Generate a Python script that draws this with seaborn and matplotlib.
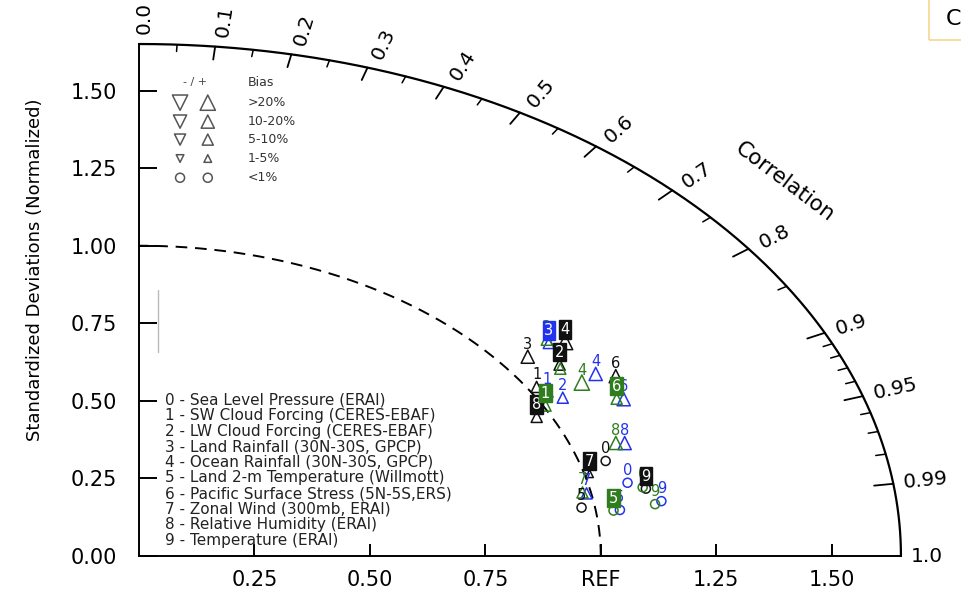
import numpy as np
import pandas as pd
import matplotlib
matplotlib.use('Agg')
import matplotlib.pyplot as plt
import seaborn as sns
from matplotlib.patches import Rectangle

# 변수 목록 (0 - 9)
var_names = ['Sea Level Pressure (ERAI)', 'SW Cloud Forcing (CERES-EBAF)',
             'LW Cloud Forcing (CERES-EBAF)', 'Land Rainfall (30N-30S, GPCP)',
             'Ocean Rainfall (30N-30S, GPCP)', 'Land 2-m Temperature (Willmott)',
             'Pacific Surface Stress (5N-5S,ERS)', 'Zonal Wind (300mb, ERAI)',
             'Relative Humidity (ERAI)', 'Temperature (ERAI)']

# 케이스별 표준편차(정규화) 와 상관계수
std_black = [1.056, 1.019, 1.100, 1.059, 1.152, 0.971, 1.184, 1.011, 0.971, 1.119]
cor_black = [0.957, 0.845, 0.828, 0.795, 0.801, 0.987, 0.872, 0.965, 0.887, 0.981]
std_blue = [1.084, 1.031, 1.050, 1.122, 1.150, 1.052, 1.165, 0.990, 1.113, 1.145]
cor_blue = [0.976, 0.858, 0.874, 0.791, 0.860, 0.990, 0.901, 0.979, 0.945, 0.988]
std_green = [1.113, 1.005, 1.094, 1.125, 1.110, 1.038, 1.152, 0.982, 1.095, 1.130]
cor_green = [0.980, 0.876, 0.834, 0.785, 0.864, 0.990, 0.898, 0.978, 0.943, 0.989]

# bias 구간 (0: <1%, 1: 1-5%, 2: 5-10%, 3: 10-20%, 4: >20%), 모두 + 방향
bias_black = [0, 2, 2, 3, 4, 0, 3, 1, 2, 0]
bias_blue = [0, 2, 2, 2, 3, 0, 3, 2, 3, 0]
bias_green = [0, 2, 2, 2, 4, 0, 2, 2, 3, 0]

# 박스로 강조된 번호
box_black = [2, 4, 7, 8, 9]
box_blue = [3]
box_green = [1, 5, 6]

bias_labels = ['<1%', '1-5%', '5-10%', '10-20%', '>20%']
corr_ticks = [0.0, 0.1, 0.2, 0.3, 0.4, 0.5, 0.6, 0.7, 0.8, 0.9, 0.95, 0.99, 1.0]
corr_minor = [0.05, 0.15, 0.25, 0.35, 0.45, 0.55, 0.65, 0.75, 0.85,
              0.91, 0.92, 0.93, 0.94, 0.96, 0.97, 0.98]
x_ticks = [0.25, 0.50, 0.75, 1.0, 1.25, 1.50]
x_labels = ['0.25', '0.50', '0.75', 'REF', '1.25', '1.50']
y_ticks = [0.0, 0.25, 0.5, 0.75, 1.0, 1.25, 1.5]

c_black = '#111111'
c_blue = '#2233ee'
c_green = '#2f7d1f'

# 데이터프레임 만들기
rows = []
for name, col, stds, cors, bias, boxed in [
        ('black', c_black, std_black, cor_black, bias_black, box_black),
        ('blue', c_blue, std_blue, cor_blue, bias_blue, box_blue),
        ('green', c_green, std_green, cor_green, bias_green, box_green)]:
    for i in range(10):
        rows.append({'case': name, 'color': col, 'var': i, 'std': stds[i],
                     'corr': cors[i], 'bias': bias[i], 'boxed': i in boxed})
df = pd.DataFrame(rows)
df['x'] = df['std'] * df['corr']
df['y'] = df['std'] * np.sqrt(1 - df['corr'] ** 2)

sns.set_style('ticks')
plt.rcParams['font.family'] = ['DejaVu Sans']
plt.rcParams['text.color'] = 'black'
plt.rcParams['xtick.color'] = 'black'
plt.rcParams['ytick.color'] = 'black'

RMAX = 1.65
fig = plt.figure(figsize=(9.61, 5.90), dpi=100)
ax = fig.add_axes([0.1446, 0.0576, 0.7929, 0.8678])
ax.set_xlim(0, RMAX)
ax.set_ylim(0, RMAX)
sx = 0.7929 * 961 / RMAX  # 가로 픽셀/단위
sy = 0.8678 * 590 / RMAX  # 세로 픽셀/단위

for s in ['top', 'right']:
    ax.spines[s].set_visible(False)
for s in ['left', 'bottom']:
    ax.spines[s].set_linewidth(1.4)
    ax.spines[s].set_color('black')

ax.set_xticks(x_ticks)
ax.set_xticklabels(x_labels)
ax.set_yticks(y_ticks)
ax.set_yticklabels(['%.2f' % v for v in y_ticks])
ax.tick_params(axis='x', direction='in', length=9, width=1.4, pad=10, labelsize=15,
               colors='black')
ax.tick_params(axis='y', direction='in', length=13, width=1.4, pad=16, labelsize=15,
               colors='black')

# 바깥 호와 상관계수 눈금
th = np.linspace(0, np.pi / 2, 300)
ax.plot(RMAX * np.cos(th), RMAX * np.sin(th), color='black', lw=1.6, clip_on=False)
ax.plot(1.0 * np.cos(th), 1.0 * np.sin(th), color='black', lw=1.4, ls=(0, (6, 4)))

for c in corr_ticks[1:-1]:
    t = np.arccos(c)
    ax.plot([RMAX * np.cos(t), (RMAX - 0.042) * np.cos(t)],
            [RMAX * np.sin(t), (RMAX - 0.042) * np.sin(t)], color='black', lw=1.3)
for c in corr_minor:
    t = np.arccos(c)
    ax.plot([RMAX * np.cos(t), (RMAX - 0.022) * np.cos(t)],
            [RMAX * np.sin(t), (RMAX - 0.022) * np.sin(t)], color='black', lw=1.1)

for c in corr_ticks:
    t = np.arccos(c)
    phi = np.arctan2(np.sin(t) * sy, np.cos(t) * sx)
    ax.annotate('%g' % c if c not in (0.0, 1.0) else '%.1f' % c,
                xy=(RMAX * np.cos(t), RMAX * np.sin(t)),
                xytext=(7 * np.cos(phi) + 4 * np.sin(phi), 7 * np.sin(phi)),
                textcoords='offset points', rotation=np.degrees(phi),
                rotation_mode='anchor', ha='left', va='center', fontsize=14.5,
                annotation_clip=False)

ax.text(1.398, 1.206, 'Correlation', rotation=-37, ha='center', va='center', fontsize=15.5)
fig.text(0.036, 0.542, 'Standardized Deviations (Normalized)', rotation=90,
         ha='center', va='center', fontsize=13)

# 점 찍기
msize = {0: 6.5, 1: 5.5, 2: 8, 3: 9.5, 4: 11}
for (case, b), sub in df.groupby(['case', 'bias'], sort=False):
    col = sub['color'].iloc[0]
    sns.scatterplot(data=sub, x='x', y='y', marker='o' if b == 0 else '^',
                    s=msize[b] ** 2, color=col, facecolor='none', edgecolor=col,
                    linewidth=1.1, ax=ax, legend=False, zorder=3)

# 번호 라벨
for _, r in df.iterrows():
    if r['boxed']:
        ax.annotate(str(r['var']), xy=(r['x'], r['y']), xytext=(0, 9),
                    textcoords='offset points', ha='center', va='center',
                    fontsize=10.5, color='white', zorder=6,
                    bbox=dict(boxstyle='square,pad=0.12', fc=r['color'], ec=r['color']))
    else:
        ax.annotate(str(r['var']), xy=(r['x'], r['y']), xytext=(0, 9),
                    textcoords='offset points', ha='center', va='center',
                    fontsize=10.5, color=r['color'], zorder=4)

ax.set_xlabel('')
ax.set_ylabel('')

# Bias 범례
key_y = [1.219, 1.281, 1.342, 1.400, 1.461]
ax.text(0.121, 1.526, '- / +', ha='center', va='center', fontsize=8, color='#444444')
ax.text(0.236, 1.526, 'Bias', ha='left', va='center', fontsize=9, color='#333333')
for b in range(5):
    if b == 0:
        ax.scatter([0.089, 0.149], [key_y[b]] * 2, marker='o', s=msize[0] ** 2,
                   facecolor='none', edgecolor='#555555', linewidth=1.1)
    else:
        ax.scatter([0.089], [key_y[b]], marker='v', s=msize[b] ** 2,
                   facecolor='none', edgecolor='#555555', linewidth=1.1)
        ax.scatter([0.149], [key_y[b]], marker='^', s=msize[b] ** 2,
                   facecolor='none', edgecolor='#555555', linewidth=1.1)
    ax.text(0.236, key_y[b], bias_labels[b], ha='left', va='center', fontsize=9,
            color='#333333')

# 변수 목록 텍스트
for i, name in enumerate(var_names):
    ax.text(0.056, 0.503 - i * 0.0503, '%d - %s' % (i, name), ha='left',
            va='center', fontsize=11, color='#222222', zorder=2)

ax.plot([0.041, 0.041], [0.658, 0.858], color='#bbbbbb', lw=1)

# 오른쪽 위 잘린 상자
fig.patches.append(Rectangle((929 / 961, 1 - 40 / 590), 0.05, 0.1, transform=fig.transFigure,
                             fill=False, edgecolor='#f3d88c', lw=1.2))
fig.text(946 / 961, 1 - 19 / 590, 'C', ha='left', va='center', fontsize=16)

plt.savefig('out.png', dpi=100)
